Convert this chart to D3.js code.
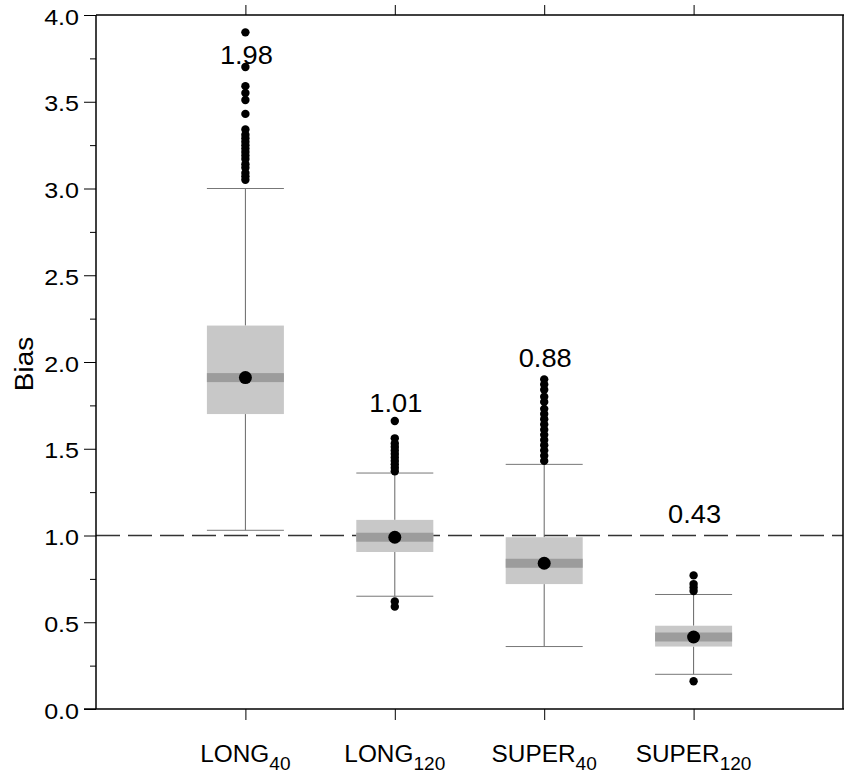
<!DOCTYPE html>
<html>
<head>
<meta charset="utf-8">
<script src="https://cdn.jsdelivr.net/npm/d3@7"></script>
<style>
  html, body { margin: 0; padding: 0; background: #fff; }
  svg { display: block; }
  .sans { font-family: "Liberation Sans", Arial, sans-serif; }
</style>
</head>
<body>
<svg id="chart" width="844" height="776"></svg>
<script>
// Box plot of bias for four estimation set-ups
const categories = ["LONG", "LONG", "SUPER", "SUPER"];
const subscripts = ["40", "120", "40", "120"];
const q1 = [1.70, 0.905, 0.72, 0.36];
const median = [1.91, 0.99, 0.84, 0.415];
const q3 = [2.21, 1.09, 0.99, 0.48];
const whiskerLow = [1.03, 0.65, 0.36, 0.20];
const whiskerHigh = [3.00, 1.36, 1.41, 0.66];
const outliers = [
  [3.90, 3.70, 3.59, 3.55, 3.51, 3.43, 3.34, 3.31, 3.29, 3.27, 3.25, 3.23, 3.21, 3.19, 3.17, 3.14, 3.12, 3.09, 3.07, 3.05],
  [1.66, 1.56, 1.53, 1.51, 1.49, 1.47, 1.45, 1.43, 1.41, 1.39, 1.37, 0.62, 0.59],
  [1.90, 1.87, 1.84, 1.80, 1.77, 1.73, 1.70, 1.67, 1.64, 1.61, 1.58, 1.55, 1.52, 1.49, 1.46, 1.43],
  [0.77, 0.72, 0.70, 0.68, 0.16]
];
const meanLabels = ["1.98", "1.01", "0.88", "0.43"];
const meanLabelAt = [3.72, 1.71, 1.97, 1.07];
const referenceLine = 1.0;
const yTicks = [0, 0.5, 1.0, 1.5, 2.0, 2.5, 3.0, 3.5, 4.0];
const yMinorTicks = [0.25, 0.75, 1.25, 1.75, 2.25, 2.75, 3.25, 3.75];

const svg = d3.select("#chart");
const plotL = 96, plotR = 843, plotT = 15, plotB = 709;
const keys = categories.map((c, i) => c + subscripts[i]);

const x = d3.scalePoint().domain(keys).range([plotL, plotR]).padding(1);
const y = d3.scaleLinear().domain([0, 4]).range([plotB, plotT]);

const boxW = 77;
const g = svg.append("g");

// reference line at unbiased value
g.append("line")
  .attr("x1", plotL).attr("x2", plotR)
  .attr("y1", y(referenceLine)).attr("y2", y(referenceLine))
  .attr("stroke", "#333").attr("stroke-width", 1.5)
  .attr("stroke-dasharray", "24,8");

keys.forEach((k, i) => {
  const cx = x(k);
  const grp = g.append("g");
  // whiskers
  grp.append("line").attr("x1", cx).attr("x2", cx)
    .attr("y1", y(whiskerHigh[i])).attr("y2", y(q3[i]))
    .attr("stroke", "#666").attr("stroke-width", 1);
  grp.append("line").attr("x1", cx).attr("x2", cx)
    .attr("y1", y(q1[i])).attr("y2", y(whiskerLow[i]))
    .attr("stroke", "#666").attr("stroke-width", 1);
  [whiskerHigh[i], whiskerLow[i]].forEach(v => {
    grp.append("line").attr("x1", cx - boxW / 2).attr("x2", cx + boxW / 2)
      .attr("y1", y(v)).attr("y2", y(v))
      .attr("stroke", "#777").attr("stroke-width", 1);
  });
  // box
  grp.append("rect")
    .attr("x", cx - boxW / 2).attr("width", boxW)
    .attr("y", y(q3[i])).attr("height", y(q1[i]) - y(q3[i]))
    .attr("fill", "#c8c8c8");
  // median band
  grp.append("rect")
    .attr("x", cx - boxW / 2).attr("width", boxW)
    .attr("y", y(median[i]) - 4.5).attr("height", 9)
    .attr("fill", "#9c9c9c");
  // median marker
  grp.append("circle").attr("cx", cx).attr("cy", y(median[i])).attr("r", 6.5).attr("fill", "#000");
  // outliers
  grp.selectAll("circle.out").data(outliers[i]).join("circle")
    .attr("class", "out")
    .attr("cx", cx).attr("cy", d => y(d)).attr("r", 4.2).attr("fill", "#000");
  // mean label
  grp.append("text").attr("class", "sans")
    .attr("transform", `translate(${cx + 1},${y(meanLabelAt[i])}) scale(1.09,1)`)
    .attr("text-anchor", "middle")
    .attr("font-size", 25).attr("fill", "#000")
    .text(meanLabels[i]);
});

// frame
const frame = svg.append("g").attr("stroke", "#000").attr("stroke-width", 1.5).attr("fill", "none");
frame.append("line").attr("x1", plotL).attr("x2", plotR + 1).attr("y1", plotT).attr("y2", plotT);
frame.append("line").attr("x1", plotL - 12).attr("x2", plotR + 1).attr("y1", plotB).attr("y2", plotB);
frame.append("line").attr("x1", plotL).attr("x2", plotL).attr("y1", plotT).attr("y2", plotB);
frame.append("line").attr("x1", plotR).attr("x2", plotR).attr("y1", plotT).attr("y2", plotB);

// y axis
const yAxis = svg.append("g").attr("transform", `translate(${plotL},0)`)
  .call(d3.axisLeft(y).tickValues(yTicks).tickFormat(d3.format(".1f")).tickSize(12).tickPadding(4));
yAxis.select(".domain").remove();
yAxis.selectAll("text").attr("class", "sans").attr("font-size", 22).attr("fill", "#000")
  .attr("x", 0).attr("transform", "translate(-17,2) scale(1.14,1)");
yAxis.selectAll("line").attr("stroke", "#000");
svg.append("g").attr("transform", `translate(${plotL},0)`)
  .call(d3.axisLeft(y).tickValues(yMinorTicks).tickFormat("").tickSize(6))
  .call(a => a.select(".domain").remove())
  .selectAll("line").attr("stroke", "#000");

// bottom axis ticks and labels
const xAxis = svg.append("g").attr("transform", `translate(0,${plotB})`)
  .call(d3.axisBottom(x).tickSize(11).tickFormat(""));
xAxis.select(".domain").remove();
xAxis.selectAll("line").attr("stroke", "#000");

// top axis ticks
const xTop = svg.append("g").attr("transform", `translate(0,${plotT})`)
  .call(d3.axisTop(x).tickSize(10).tickFormat(""));
xTop.select(".domain").remove();
xTop.selectAll("line").attr("stroke", "#000");

keys.forEach((k, i) => {
  const t = svg.append("text").attr("class", "sans")
    .attr("transform", `translate(${x(k)},762) scale(1.06,1)`)
    .attr("text-anchor", "middle").attr("fill", "#000");
  t.append("tspan").attr("font-size", 23).text(categories[i]);
  t.append("tspan").attr("font-size", 18).attr("dy", 8).text(subscripts[i]);
});

// y axis title
svg.append("text").attr("class", "sans")
  .attr("transform", `translate(33,364) rotate(-90) scale(1.12,1)`)
  .attr("text-anchor", "middle").attr("font-size", 25).attr("fill", "#000")
  .text("Bias");
</script>
</body>
</html>
